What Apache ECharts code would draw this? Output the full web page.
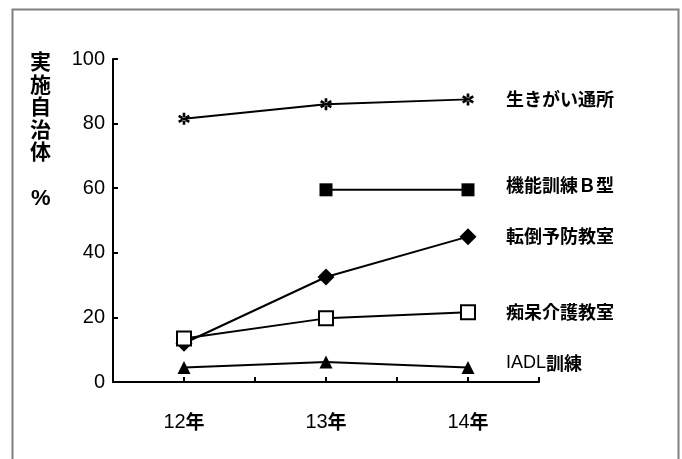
<!DOCTYPE html>
<html><head><meta charset="utf-8">
<script src="https://cdn.jsdelivr.net/npm/echarts@6/dist/echarts.min.js"></script>
<style>html,body{margin:0;padding:0;background:#fff}#c{width:682px;height:459px}</style>
</head><body><div id="c"></div>
<script>
const categories = ['12年', '13年', '14年'];
const yTicks = [0, 20, 40, 60, 80, 100];
const seriesNames = ['生きがい通所', '機能訓練Ｂ型', '転倒予防教室', '痴呆介護教室', 'IADL訓練'];
const ikigai = [81.5, 86, 87.5];
const kinou = [null, 59.5, 59.5];
const tentou = [12, 32.5, 45];
const chihou = [13.5, 19.7, 21.6];
const iadl = [4.5, 6.2, 4.5];
const yAxisTitle = '実施自治体';
const yAxisUnit = '%';

const asterisk = 'path://M-1.3,-6L1.3,-6L1.3,6L-1.3,6Z M5.846,-1.874L4.546,-4.126L-5.846,1.874L-4.546,4.126Z M4.546,4.126L5.846,1.874L-4.546,-4.126L-5.846,-1.874Z';
const toPts = arr => arr.map((v, i) => [i, v]);
const font = "'Liberation Sans', 'Noto Sans CJK JP', sans-serif";
const cjk = "'Noto Sans CJK JP', 'Liberation Sans', sans-serif";

function labelText(name) {
  const m = name.match(/^([A-Za-z0-9]+)(.*)$/);
  return m ? '{a|' + m[1] + '}{b|' + m[2] + '}' : '{b|' + name + '}';
}

function mk(name, data, symbol, size, itemStyle, labelOffset) {
  return {
    type: 'line', name: name, data: toPts(data), symbol: symbol, symbolSize: size,
    showAllSymbol: true, connectNulls: false,
    lineStyle: { color: '#000', width: 2 },
    itemStyle: itemStyle,
    emphasis: { disabled: true },
    endLabel: {
      show: true, formatter: labelText(name), distance: 38, offset: labelOffset || [0, 0],
      rich: {
        a: { color: '#000', fontSize: 18, fontFamily: font },
        b: { color: '#000', fontSize: 18, fontWeight: 'bold', fontFamily: cjk }
      }
    }
  };
}

const chart = echarts.init(document.getElementById('c'));
chart.setOption({
  animation: false,
  backgroundColor: '#fff',
  grid: { left: 113, right: 143, top: 59, bottom: 77, containLabel: false },
  xAxis: {
    type: 'value', min: -0.5, max: 2.5, interval: 0.5,
    splitLine: { show: false },
    axisLine: { lineStyle: { color: '#000', width: 2 } },
    axisTick: { inside: true, length: 5, lineStyle: { color: '#000', width: 2 } },
    axisLabel: {
      margin: 30, color: '#000',
      showMinLabel: true, showMaxLabel: true,
      formatter: v => (Number.isInteger(v) && categories[v] !== undefined) ? labelText(categories[v]) : '',
      rich: {
        a: { color: '#000', fontSize: 20, fontFamily: font },
        b: { color: '#000', fontSize: 19, fontWeight: 'bold', fontFamily: cjk }
      }
    }
  },
  yAxis: {
    type: 'value', min: yTicks[0], max: yTicks[yTicks.length - 1], interval: 20,
    splitLine: { show: false },
    axisLine: { show: true, onZero: false, lineStyle: { color: '#000', width: 2 } },
    axisTick: { show: true, inside: true, length: 5, lineStyle: { color: '#000', width: 2 } },
    axisLabel: { margin: 8, color: '#000', fontSize: 20, fontFamily: font }
  },
  graphic: [
    { type: 'rect', left: 10, top: 7, shape: { width: 666, height: 470 },
      style: { fill: 'none', stroke: '#808080', lineWidth: 2 }, silent: true },
    { type: 'text', left: 30, top: 50,
      style: { text: yAxisTitle.split('').join('\n'), fontSize: 21, fontWeight: 'bold', lineHeight: 22.5, fill: '#000', fontFamily: cjk } },
    { type: 'text', left: 31, top: 188,
      style: { text: yAxisUnit, fontSize: 22, fontWeight: 'bold', fill: '#000', fontFamily: font } }
  ],
  series: [
    mk(seriesNames[0], ikigai, asterisk, [12, 12], { color: '#000' }),
    mk(seriesNames[1], kinou, 'rect', 13, { color: '#000' }, [0, -5]),
    mk(seriesNames[2], tentou, 'diamond', 17, { color: '#000' }),
    mk(seriesNames[3], chihou, 'rect', 14, { color: '#fff', borderColor: '#000', borderWidth: 2 }),
    mk(seriesNames[4], iadl, 'triangle', 13, { color: '#000' }, [0, -4])
  ]
});
</script></body></html>
